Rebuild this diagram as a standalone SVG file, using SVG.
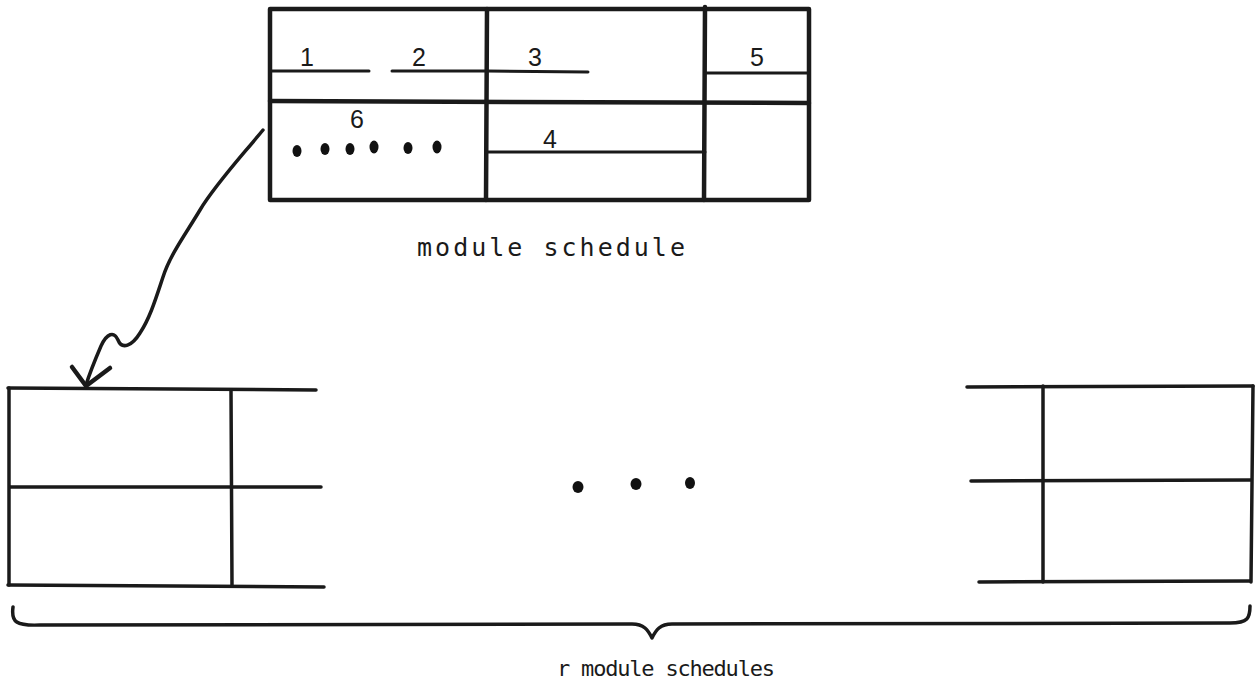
<svg xmlns="http://www.w3.org/2000/svg" width="1257" height="688" viewBox="0 0 1257 688">
  <style>
    .ln { stroke: #1a1a1a; stroke-width: 3.5; fill: none; stroke-linecap: round; stroke-linejoin: round; }
    .thk { stroke-width: 4.5; }
    .thin { stroke-width: 3; }
    .lbl { font-family: "DejaVu Sans Mono", "Liberation Mono", monospace; fill: #1a1a1a; text-anchor: middle; }
    .num { font-family: "Liberation Sans", Arial, sans-serif; font-size: 25px; fill: #1a1a1a; text-anchor: middle; }
    .dot { fill: #111; }
  </style>
  <rect width="1257" height="688" fill="#ffffff"/>

  <!-- module schedule record -->
  <g id="module-schedule">
    <rect class="ln thk" x="270" y="9" width="539" height="191"/>
    <line class="ln thk" x1="487" y1="9" x2="486" y2="200"/>
    <line class="ln thk" x1="705" y1="7" x2="704" y2="200"/>
    <line class="ln thk" x1="270" y1="101" x2="809" y2="103"/>
    <line class="ln thin" x1="272" y1="71" x2="369" y2="71"/>
    <line class="ln thin" x1="392" y1="71" x2="487" y2="71"/>
    <line class="ln thin" x1="487" y1="71" x2="588" y2="72"/>
    <line class="ln thin" x1="705" y1="73" x2="808" y2="73"/>
    <line class="ln thin" x1="487" y1="152" x2="705" y2="152"/>
    <text class="num" x="307" y="66">1</text>
    <text class="num" x="419" y="66">2</text>
    <text class="num" x="535" y="66">3</text>
    <text class="num" x="757" y="66">5</text>
    <text class="num" x="357" y="128">6</text>
    <text class="num" x="550" y="148">4</text>
    <ellipse class="dot" cx="297" cy="151" rx="4.5" ry="6"/>
    <ellipse class="dot" cx="325" cy="149" rx="4.5" ry="6"/>
    <ellipse class="dot" cx="350" cy="149" rx="4.5" ry="6"/>
    <ellipse class="dot" cx="374" cy="147" rx="4.5" ry="6.5"/>
    <ellipse class="dot" cx="408" cy="148" rx="4.5" ry="6"/>
    <ellipse class="dot" cx="437" cy="147" rx="4.5" ry="6.5"/>
    <text class="lbl" x="551" y="256" font-size="25" textLength="268" lengthAdjust="spacing">module schedule</text>
  </g>

  <!-- first schedule in the row -->
  <g id="schedule-first">
    <line class="ln" x1="8" y1="388" x2="316" y2="390"/>
    <line class="ln" x1="10" y1="487" x2="321" y2="487"/>
    <line class="ln" x1="8" y1="585" x2="324" y2="587"/>
    <line class="ln" x1="9" y1="388" x2="9" y2="585"/>
    <line class="ln" x1="231" y1="390" x2="232" y2="585"/>
  </g>

  <!-- ellipsis between schedules -->
  <g id="ellipsis">
    <ellipse class="dot" cx="578" cy="487" rx="5.5" ry="6"/>
    <ellipse class="dot" cx="636" cy="484" rx="5.5" ry="6"/>
    <ellipse class="dot" cx="690" cy="483" rx="5" ry="6"/>
  </g>

  <!-- last schedule in the row -->
  <g id="schedule-last">
    <line class="ln" x1="967" y1="387" x2="1253" y2="386"/>
    <line class="ln" x1="971" y1="481" x2="1251" y2="480"/>
    <line class="ln" x1="979" y1="582" x2="1250" y2="581"/>
    <line class="ln" x1="1043" y1="386" x2="1043" y2="582"/>
    <line class="ln" x1="1253" y1="386" x2="1251" y2="582"/>
  </g>

  <!-- brace and caption -->
  <g id="group-brace">
    <path class="ln" d="M13,607 C11,622 16,626 40,625 L632,624 C644,624 648,630 652,638 C656,630 660,624 672,624 L1230,623 C1248,623 1250,618 1250,606"/>
    <text class="lbl" x="666" y="676" font-size="22" textLength="218" lengthAdjust="spacing">r module schedules</text>
  </g>

  <!-- connector -->
  <g id="connectors">
    <path class="ln" d="M263,130 C240,158 215,185 200,210 C185,235 170,255 163,277 C156,298 150,318 140,333 C132,346 122,350 118,340 C114,331 107,333 101,346 C95,360 90,372 86,385"/>
    <path class="ln thk" d="M72,367 L86,386 L110,368"/>
  </g>
</svg>
